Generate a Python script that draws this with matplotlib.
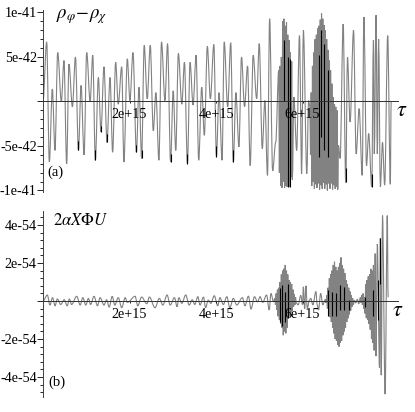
import numpy as np
import matplotlib
matplotlib.use('Agg')
import matplotlib.pyplot as plt
from matplotlib.path import Path
from matplotlib.patches import PathPatch

plt.rcParams['font.family'] = ['Liberation Serif', 'DejaVu Serif']
plt.rcParams['mathtext.fontset'] = 'stix'

W, H = 415, 412
LINE = '#828282'

# panel (a), tau in 1e15, rho difference in 1e-42
a_t1 = [0, .085, .147, .216, .277, .34, .424, .485, .547, .6, .68, .75, .82, .88, .95, 1.01, 1.09, 1.15, 1.21,
        1.28, 1.34, 1.41, 1.48, 1.55, 1.61, 1.68, 1.74, 1.82, 1.87, 1.95, 2.01, 2.08, 2.16, 2.22, 2.28, 2.34, 2.41,
        2.48, 2.55, 2.61, 2.68, 2.74, 2.82, 2.88, 2.95, 3.01, 3.07, 3.13, 3.21, 3.27, 3.34, 3.40, 3.47, 3.54, 3.6,
        3.67, 3.73, 3.8, 3.87, 3.95, 4.01, 4.07, 4.14, 4.19, 4.27, 4.34, 4.4, 4.46, 4.53, 4.59, 4.66, 4.73, 4.79,
        4.86, 4.94, 5.0, 5.07, 5.13, 5.19, 5.24, 5.31, 5.38]
a_v1 = [0, 6.7, -6.8, 1.4, -5.5, 5.5, 0, 4.6, -7, 4.2, -.6, 5, -5.5, 1.8, -6, 5.5, 0, 5.2, -6.6,
        2.7, -3.4, 3.9, -4.6, 2.7, -5.7, 4.4, -.3, 3.9, -6.8, 4.8, .1, 5.5, -5.7, 1.6, -6.4, 6.3, .3,
        6.3, -3.3, 1.0, -6.6, 6.7, .1, 6.5, -6.8, 1.2, -5.5, 5.4, -.3, 4.4, -7, 4.4, -.4, 5.2, -6.6,
        1.6, -3.8, 6.2, .3, 6.4, -6.2, 1, -6.6, 6.7, -.6, 6.6, -6.8, 1.0, -5.1, 5, -.6, 4, -7.2,
        5.2, .3, 6.5, -5.3, .1, -8.3, 9.3, -7.8, -4.6]
a_burst1_t = [5.45, 5.48, 5.51, 5.54, 5.57, 5.60, 5.63, 5.66, 5.69, 5.72, 5.75]
a_burst1_hi = [3.5, 4, 5, 9, 9.3, 8.5, 8.9, 7.5, 6.9, 5.5, 4.5]
a_burst1_lo = [-8, -9.5, -9.7, -9, -9.7, -9.5, -9.6, -9, -9.6, -8.5, -8.8]
a_t2 = [5.80, 5.865, 5.93, 5.98, 6.02, 6.1, 6.14]
a_v2 = [.5, -5.5, 7.4, -8.1, 8, -8.1, .1]
a_burst2_t = [6.17, 6.20, 6.23, 6.26, 6.29, 6.32, 6.35, 6.38, 6.41, 6.44, 6.47, 6.50, 6.53, 6.56, 6.59, 6.62, 6.65,
              6.68, 6.71, 6.74, 6.77, 6.80]
a_burst2_hi = [-.5, 1, 4, 5.5, 7, 7.5, 8.2, 8.5, 9.2, 9.9, 9.3, 8.6, 8, 7, 5.8, 4.6, 3.5, 2, .5, -.3, -.6, -1]
a_burst2_lo = [-6, -9.5, -9, -9.8, -9.3, -9.7, -9.2, -9.9, -9.4, -9.8, -9.1, -9.8, -9.3, -10, -9.2, -9.8, -9.2,
               -9.9, -9.4, -9.8, -9.6, -9.9]
a_t3 = [6.83, 6.87, 6.94, 7.0, 7.04, 7.1, 7.18, 7.24, 7.31, 7.38, 7.42, 7.48, 7.53, 7.6, 7.64, 7.66, 7.7, 7.73,
        7.76, 7.8, 7.85, 7.9, 7.97, 8.03, 8.05]
a_v3 = [-4.9, -6.4, 8.7, -9.1, 5, -2.3, 8, -5.9, -.8, -8.3, 9.5, -7.2, -3.6, -9.6, 6.9, -5.9, 9.7, -5.9,
        7, -9.6, -4.6, -9.4, 7.4, -9.3, 0]
# darker stretches of the curve
a_dark_t = [.82, 1.21, 1.34, 1.48, 2.16, 2.28, 2.95, 3.34, 4.01, 4.4, 5.58, 5.66, 5.71, 6.37, 6.43, 6.5, 6.6, 7.0, 7.6]
a_dark_lo = [-5.5, -6.6, -3.4, -4.6, -5.7, -6.4, -6.8, -7, -6.2, -6.8, 0, -9.6, -9.6, -6.2, -4, -5.5, -6.2, -9.1, -9.6]
a_dark_hi = [-4.4, -5.5, -2.7, -3.6, -4.9, -5.5, -5.9, -5.9, -5, -5.5, 6.9, 5, 4.8, 5.2, 8, 6.5, 3.5, -7.5, -8.2]

# panel (b), tau in 1e15, value in 1e-54
b_t1 = [0, .10, .16, .22, .28, .33, .41, .49, .56, .61, .66, .78, .86, .92, .99, 1.05, 1.10, 1.18, 1.26, 1.32, 1.41,
        1.47, 1.53, 1.60, 1.66, 1.74, 1.82, 1.90, 1.95, 2.13, 2.19, 2.28, 2.40, 2.46, 2.59, 2.69, 2.77, 2.87,
        2.94, 3.04, 3.10, 3.14, 3.21, 3.30, 3.38, 3.45, 3.51, 3.58, 3.63, 3.71, 3.76, 3.82, 3.88, 3.96, 4.04, 4.09,
        4.17, 4.25, 4.32, 4.40, 4.48, 4.61, 4.67, 4.75, 4.81, 4.89, 4.96, 5.02, 5.08, 5.17, 5.23, 5.27, 5.33]
b_v1 = [0, .32, -.21, .18, -.25, .11, -.18, .07, -.25, .11, -.18, .25, -.21, .18, -.21, .14, -.18, .25, -.25, .18, -.21,
        .07, -.32, .25, -.21, .18, -.35, .18, -.07, .25, -.25, .21, -.14, .21, -.35, .14, -.21, .32,
        -.21, .18, -.3, .18, -.12, .32, -.21, .07, -.18, .23, -.21, .21, -.35, .05, -.12, .28, -.25, .18,
        -.18, .23, -.35, .14, -.21, .18, -.25, .26, -.42, .23, -.04, .23, -.07, .32, -.47, .4, -.04]
b_burst1_t = [5.36, 5.39, 5.42, 5.45, 5.48, 5.51, 5.54, 5.57, 5.60, 5.63, 5.66, 5.69, 5.72, 5.75, 5.78, 5.81, 5.84]
b_burst1_hi = [.14, .4, .6, .7, 1.0, 1.4, 1.6, 1.7, 1.9, 1.6, 1.4, 1.1, 1.0, .9, .6, .35, .2]
b_burst1_lo = [-.2, -.45, -.8, -1.0, -1.2, -1.4, -1.8, -1.6, -1.7, -1.4, -.9, -.8, -.6, -.5, -.3, -.2, -.1]
b_t2 = [5.90, 5.96, 6.0, 6.02, 6.05, 6.08, 6.11, 6.16, 6.19, 6.24, 6.31, 6.34, 6.37, 6.42, 6.47, 6.52]
b_v2 = [-.2, .3, -.2, .75, -.4, .8, -.4, .05, .14, -.2, .5, -.2, -.47, .4, -.2, .05]
b_burst2_t = [6.53, 6.56, 6.59, 6.62, 6.65, 6.68, 6.71, 6.74, 6.77, 6.80, 6.83, 6.86, 6.89, 6.92, 6.95, 6.98, 7.01,
              7.04, 7.07, 7.10, 7.13, 7.16]
b_burst2_hi = [.1, .32, .7, 1.2, 1.4, 1.6, 1.9, 2.07, 1.8, 1.6, 1.8, 2.0, 2.3, 1.9, 1.7, 1.47, 1.1, .9, .7, .5, .3, .15]
b_burst2_lo = [-.1, -.39, -.6, -.85, -1.1, -1.4, -1.7, -2.0, -2.1, -2.3, -2.4, -2.2, -2.1, -1.8, -1.6, -1.4, -1.1,
               -.9, -.7, -.5, -.3, -.2]
b_t3 = [7.2, 7.23, 7.27, 7.3]
b_v3 = [.05, -.1, .1, -.15]
b_burst3_t = [7.34, 7.37, 7.40, 7.43, 7.46, 7.49, 7.52, 7.55, 7.58, 7.61, 7.64]
b_burst3_hi = [.2, .3, .4, .2, .9, 1.1, 1.3, 1.4, 1.7, 1.6, 1.9]
b_burst3_lo = [-.1, -.2, -.4, -.65, -.9, -1.0, -1.2, -1.5, -2.0, -2.2, -2.6]
b_t4 = [7.68, 7.7, 7.73, 7.78, 7.8, 7.82, 7.85, 7.91, 7.96, 7.98]
b_v4 = [2.5, -2.9, 3.0, -3.5, 3.3, -3.9, 4.5, -4.9, 4.5, .2]
b_dark_t = [5.48, 5.52, 5.6, 5.67, 6.6, 6.69, 6.77, 6.87, 6.96, 7.08, 7.45, 7.63, 7.74, 7.8]
b_dark_lo = [-1.1, -1.3, -1.1, -.9, -.8, -.8, -.8, -.47, -.47, -.47, -.3, -.8, -1.0, .9]
b_dark_hi = [.67, .85, .5, .9, .58, .5, .4, .84, .75, .05, .2, .58, 1.1, 3.3]

x_ticks = [2e15, 4e15, 6e15]
x_labels = ['2e+15', '4e+15', '6e+15']
a_ticks = [-1e-41, -5e-42, 0, 5e-42, 1e-41]
a_labels = ['-1e-41', '-5e-42', '', '5e-42', '1e-41']
b_ticks = [-4e-54, -2e-54, 0, 2e-54, 4e-54]
b_labels = ['-4e-54', '-2e-54', '', '2e-54', '4e-54']


def burst(t, hi, lo):
    # every tabulated time holds one upper and one lower swing
    xs, ys = [], []
    for ti, h, l in zip(t, hi, lo):
        xs += [ti, ti + .015]
        ys += [h, l]
    return xs, ys


def rounded_path(t, v):
    # the listed points are the turning points, the path leaves each one flat
    verts = [(t[0], v[0])]
    codes = [Path.MOVETO]
    for i in range(1, len(t)):
        d = (t[i] - t[i - 1]) * .35
        verts += [(t[i - 1] + d, v[i - 1]), (t[i] - d, v[i]), (t[i], v[i])]
        codes += [Path.CURVE4, Path.CURVE4, Path.CURVE4]
    return Path(verts, codes)


def panel(top, bottom, xmax, ymax, ymin, yunit, t, v, dark, ticks, labels, minor):
    ax = fig.add_axes([43 / W, 1 - bottom / H, 355 / W, (bottom - top) / H])
    ax.patch.set_alpha(0)
    curve = rounded_path(list(np.array(t) * 1e15), list(np.array(v) * yunit))
    ax.add_patch(PathPatch(curve, fc='none', ec=LINE, lw=.8))
    ax.vlines(np.array(dark[0]) * 1e15, np.array(dark[1]) * yunit, np.array(dark[2]) * yunit, color='black', lw=.8)
    ax.set_xlim(0, xmax * 1e15)
    ax.set_ylim(ymin * yunit, ymax * yunit)
    for s in ['top', 'right']:
        ax.spines[s].set_visible(False)
    ax.spines['bottom'].set_position(('data', 0))
    ax.spines['bottom'].set_color('#303030')
    ax.spines['left'].set_color('#404040')
    ax.spines['bottom'].set_linewidth(.7)
    ax.spines['left'].set_linewidth(.7)
    ax.set_xticks(x_ticks, x_labels)
    ax.set_yticks(ticks, labels)
    ax.set_yticks(minor, minor=True)
    ax.tick_params(axis='x', direction='out', length=1.5, width=.6, pad=3.5, labelsize=10.2)
    ax.tick_params(axis='y', direction='out', length=4, width=.6, pad=.5, labelsize=10.2)
    ax.tick_params(axis='y', which='minor', length=2, width=.6)
    return ax


fig = plt.figure(figsize=(W / 100, H / 100), dpi=100)

bx1, by1 = burst(a_burst1_t, a_burst1_hi, a_burst1_lo)
bx2, by2 = burst(a_burst2_t, a_burst2_hi, a_burst2_lo)
a_t = a_t1 + bx1 + a_t2 + bx2 + a_t3
a_v = a_v1 + by1 + a_v2 + by2 + a_v3
a_minor = [i * 1e-42 for i in range(-10, 11) if i % 5 != 0]
panel(10, 192, 8.208, 10.28, -10.17, 1e-42, a_t, a_v, (a_dark_t, a_dark_lo, a_dark_hi), a_ticks, a_labels, a_minor)

bx1, by1 = burst(b_burst1_t, b_burst1_hi, b_burst1_lo)
bx2, by2 = burst(b_burst2_t, b_burst2_hi, b_burst2_lo)
bx3, by3 = burst(b_burst3_t, b_burst3_hi, b_burst3_lo)
b_t = b_t1 + bx1 + b_t2 + bx2 + b_t3 + bx3 + b_t4
b_v = b_v1 + by1 + b_v2 + by2 + b_v3 + by3 + b_v4
b_minor = [i * .4e-54 for i in range(-12, 12) if i % 5 != 0]
panel(211, 397, 8.208, 4.74, -5.05, 1e-54, b_t, b_v, (b_dark_t, b_dark_lo, b_dark_hi), b_ticks, b_labels, b_minor)


def label(px, py, s, size, **kw):
    fig.text(px / W, 1 - py / H, s, fontsize=size, va='center', **kw)


label(56, 17, r'$\rho_{\varphi}\!-\!\rho_{\chi}$', 13.5)
label(47, 172, '(a)', 10.5)
label(396, 112, r'$\tau$', 16)
label(53, 221, r'$2\alpha X\Phi U$', 12)
label(48, 382, '(b)', 10.5)
label(392, 312, r'$\tau$', 16)

fig.savefig('out.png', dpi=100)
